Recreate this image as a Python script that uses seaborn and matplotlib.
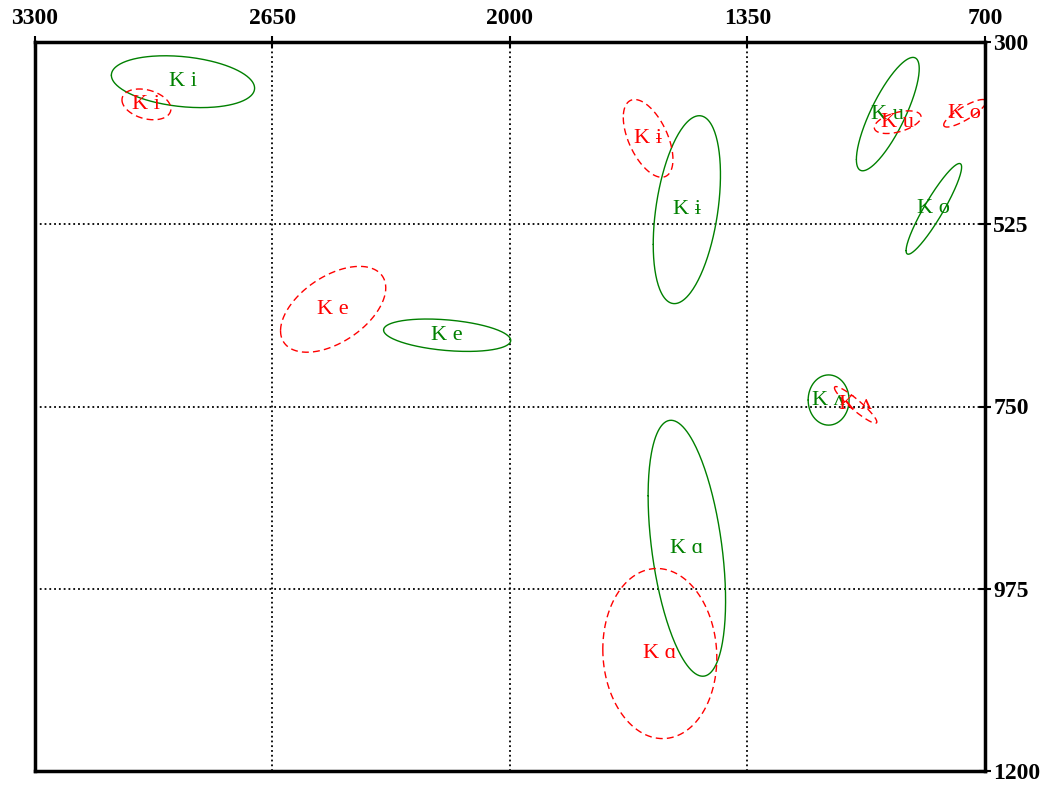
import numpy as np
import pandas as pd
import matplotlib
matplotlib.use("Agg")
import matplotlib.pyplot as plt
import seaborn as sns

# Vowel categories (after /K/)
vowels = ["i", "ɨ", "u", "o", "e", "ʌ", "ɑ"]

# Group A (solid green): formant means (Hz), SDs and F1/F2 correlation
a_f2 = [2895, 1516, 966, 840, 2172, 1128, 1516]
a_f1 = [349, 507, 389, 506, 662, 742, 925]
a_sd_f2 = [98, 46, 43, 38, 87, 28, 53]
a_sd_f1 = [16, 58, 35, 28, 10, 15.5, 79]
a_r = [-0.25, 0.37, 0.80, 0.92, -0.32, 0.0, -0.41]

# Group B (dashed red)
b_f2 = [2995, 1622, 939, 755, 2484, 1054, 1590]
b_f1 = [377, 419, 399, 388, 630, 748, 1055]
b_sd_f2 = [33.5, 34, 32, 29, 72, 29, 78]
b_sd_f1 = [9.5, 24, 7, 8.5, 26.5, 11.3, 52.5]
b_r = [-0.29, -0.54, 0.47, 0.84, 0.50, -0.93, -0.05]

x_ticks = [3300, 2650, 2000, 1350, 700]
y_ticks = [300, 525, 750, 975, 1200]

GREEN = "#008000"
RED = "#ff0000"
N_SD = 2.0

sns.set_theme(style="white")
plt.rcParams["font.family"] = ["Liberation Serif", "DejaVu Serif"]


def ellipse_rows(group, f2, f1, sd2, sd1, r):
    rows = []
    t = np.linspace(0, 2 * np.pi, 240)
    for v, cx, cy, sx, sy, rr in zip(vowels, f2, f1, sd2, sd1, r):
        xs = cx + N_SD * sx * np.cos(t)
        ys = cy + N_SD * sy * (rr * np.cos(t) + np.sqrt(1 - rr ** 2) * np.sin(t))
        for k, (x, y) in enumerate(zip(xs, ys)):
            rows.append({"group": group, "id": f"{group}-{v}", "order": k,
                         "F2": x, "F1": y})
    return rows


df = pd.DataFrame(ellipse_rows("A", a_f2, a_f1, a_sd_f2, a_sd_f1, a_r)
                  + ellipse_rows("B", b_f2, b_f1, b_sd_f2, b_sd_f1, b_r))

fig = plt.figure(figsize=(10.45, 7.86), dpi=100)
ax = fig.add_axes([35 / 1045, 15 / 786, 950 / 1045, 729 / 786])

sns.lineplot(data=df, x="F2", y="F1", hue="group", style="group",
             units="id", estimator=None, sort=False,
             palette={"A": GREEN, "B": RED},
             dashes={"A": "", "B": (5, 3)},
             linewidth=1.0, legend=False, ax=ax)
for line in ax.get_lines():
    line.set_clip_on(False)

fkw = dict(ha="center", va="center", fontsize=16,
           family=["Liberation Serif", "DejaVu Serif"])
for v, x, y in zip(vowels, a_f2, a_f1):
    ax.text(x, y, "K " + v, color=GREEN, **fkw)
for v, x, y in zip(vowels, b_f2, b_f1):
    ax.text(x, y, "K " + v, color=RED, **fkw)

ax.set_xlim(3300, 700)
ax.set_ylim(1200, 300)
ax.set_xticks(x_ticks)
ax.set_yticks(y_ticks)
ax.set_xticklabels([str(v) for v in x_ticks])
ax.set_yticklabels([str(v) for v in y_ticks])
ax.xaxis.tick_top()
ax.yaxis.tick_right()
ax.set_xlabel("")
ax.set_ylabel("")
ax.tick_params(axis="both", direction="inout", length=8, width=1.5,
               color="black", labelsize=17, pad=2)
ax.tick_params(axis="x", pad=5)
for lab in ax.get_xticklabels() + ax.get_yticklabels():
    lab.set_fontweight("bold")
    lab.set_color("black")

ax.grid(True, linestyle=":", color="black", linewidth=1.3)
ax.set_axisbelow(True)
for sp in ax.spines.values():
    sp.set_visible(True)
    sp.set_color("black")
    sp.set_linewidth(2.5)

fig.savefig("out.png", dpi=100, facecolor="white")
